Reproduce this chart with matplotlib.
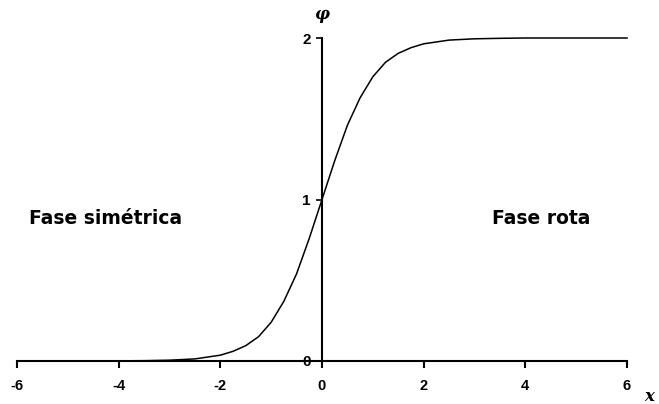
import matplotlib
matplotlib.use("Agg")
import matplotlib.pyplot as plt

x_vals = [-6, -5.5, -5, -4.5, -4, -3.5, -3, -2.5, -2, -1.75, -1.5, -1.25, -1, -0.75, -0.5, -0.25,
          0, 0.25, 0.5, 0.75, 1, 1.25, 1.5, 1.75, 2, 2.5, 3, 3.5, 4, 4.5, 5, 5.5, 6]
phi_vals = [0.0, 0.0, 0.0, 0.0, 0.001, 0.002, 0.005, 0.013, 0.036, 0.06, 0.095, 0.15, 0.24, 0.37,
            0.54, 0.76, 1.0, 1.24, 1.46, 1.63, 1.76, 1.85, 1.905, 1.94, 1.964, 1.987, 1.995, 1.998,
            2.0, 2.0, 2.0, 2.0, 2.0]
x_ticks = [-6, -4, -2, 0, 2, 4, 6]
y_ticks = [0, 1, 2]

fig = plt.figure(figsize=(6.59, 4.04), dpi=100)
W, H = 659, 404
ax = fig.add_axes([17 / W, (H - 361) / H, (627 - 17) / W, (361 - 38) / H])
ax.plot(x_vals, phi_vals, color="black", lw=1.1, clip_on=False)
ax.set_xlim(-6, 6)
ax.set_ylim(0, 2)

ax.spines["left"].set_position(("data", 0))
ax.spines["right"].set_visible(False)
ax.spines["top"].set_visible(False)
for s in ["left", "bottom"]:
    ax.spines[s].set_linewidth(1.5)
    ax.spines[s].set_color("black")

ax.set_xticks(x_ticks)
ax.set_xticklabels([str(v) for v in x_ticks], fontsize=10.5, fontweight="bold", family="Liberation Sans")
ax.set_yticks(y_ticks)
ax.set_yticklabels([str(v) for v in y_ticks], fontsize=11, fontweight="bold", family="Liberation Sans")
ax.tick_params(axis="x", direction="out", length=5, width=1.5, pad=8)
ax.tick_params(axis="y", direction="out", length=4, width=1.2, pad=4)

ax.text(0, 2.09, "φ", ha="center", va="bottom", fontsize=12, fontweight="bold",
        fontstyle="italic", family="DejaVu Serif")
ax.text(6.35, -0.22, "x", ha="left", va="center", fontsize=12, fontweight="bold",
        fontstyle="italic", family="DejaVu Serif", clip_on=False)

ax.text(-5.76, 0.88, "Fase simétrica", ha="left", va="center", fontsize=13.5,
        fontweight="bold", family="DejaVu Sans")
ax.text(5.27, 0.88, "Fase rota", ha="right", va="center", fontsize=13.5,
        fontweight="bold", family="DejaVu Sans")

fig.savefig("out.png", dpi=100)
